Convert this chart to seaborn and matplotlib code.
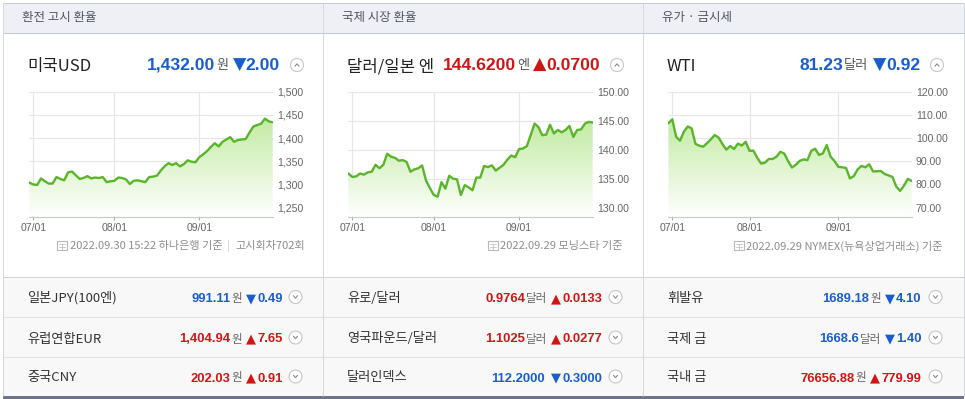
import numpy as np
import matplotlib
matplotlib.use("Agg")
import matplotlib.pyplot as plt
import seaborn as sns
from matplotlib.patches import Rectangle, Circle
from matplotlib.colors import to_rgb

# ---------------- data ----------------
# trading-day index: -1 .. 62  (07/01 = 0)
usd_krw = [1304, 1300, 1299, 1313, 1307, 1302, 1302, 1316, 1312, 1309, 1326, 1328, 1320,
           1312, 1314, 1318, 1313, 1315, 1314, 1316, 1305, 1307, 1308, 1315, 1314, 1311,
           1301, 1308, 1309, 1307, 1305, 1316, 1317, 1319, 1330, 1339, 1346, 1342, 1346,
           1339, 1344, 1352, 1349, 1348, 1359, 1365, 1372, 1381, 1389, 1382, 1392, 1397,
           1402, 1392, 1396, 1397, 1398, 1412, 1425, 1428, 1431, 1442, 1436, 1434]
usd_jpy = [135.9, 135.3, 135.4, 135.9, 135.7, 136.1, 136.2, 137.4, 136.8, 137.4, 139.3,
           138.8, 138.6, 138.1, 138.2, 137.9, 136.2, 136.6, 136.8, 137.3, 134.7, 133.4,
           132.2, 131.9, 134.4, 133.3, 135.5, 135.0, 134.9, 132.2, 133.9, 133.5, 133.0,
           135.2, 135.2, 137.2, 137.0, 137.3, 136.4, 136.9, 137.4, 138.3, 139.0, 138.7,
           140.1, 140.2, 140.6, 142.5, 144.5, 143.9, 142.5, 142.6, 144.3, 142.8, 143.4,
           143.0, 143.4, 144.1, 142.2, 143.4, 143.5, 144.5, 144.8, 144.7]
wti = [106.4, 108.1, 100.5, 98.9, 102.8, 105.0, 104.2, 97.5, 96.7, 96.3, 97.8, 99.5,
       101.3, 100.2, 97.4, 95.0, 96.6, 95.3, 97.6, 96.8, 98.4, 94.5, 94.6, 91.5, 89.0,
       89.4, 91.0, 91.0, 92.0, 94.1, 93.3, 90.0, 87.3, 88.5, 90.2, 90.8, 90.5, 94.5,
       95.4, 92.7, 93.4, 97.0, 92.0, 90.1, 87.6, 87.4, 87.1, 82.6, 83.6, 86.5, 88.0,
       87.4, 88.7, 85.6, 85.7, 85.8, 84.5, 83.9, 83.3, 79.1, 77.2, 79.5, 82.4, 81.5]

month_labels = ["07/01", "08/01", "09/01"]
month_ticks = [[0, 21, 43], [0, 21, 43], [0, 20, 43]]

yticks = [[1250, 1300, 1350, 1400, 1450, 1500],
          [130, 135, 140, 145, 150],
          [70, 80, 90, 100, 110, 120]]
ytick_labels = [["1,250", "1,300", "1,350", "1,400", "1,450", "1,500"],
                ["130.00", "135.00", "140.00", "145.00", "150.00"],
                ["70.00", "80.00", "90.00", "100.00", "110.00", "120.00"]]

section_titles = ["환전 고시 환율", "국제 시장 환율", "유가 · 금시세"]
main_names = ["미국USD", "달러/일본 엔", "WTI"]
main_values = ["1,432.00", "144.6200", "81.23"]
main_units = ["원", "엔", "달러"]
main_changes = ["2.00", "0.0700", "0.92"]
main_dirs = ["down", "up", "down"]

foot_main = ["2022.09.30 15:22 하나은행 기준", "2022.09.29 모닝스타 기준",
             "2022.09.29 NYMEX(뉴욕상업거래소) 기준"]
foot_extra = ["고시회차702회", "", ""]

row_names = [["일본JPY(100엔)", "유럽연합EUR", "중국CNY"],
             ["유로/달러", "영국파운드/달러", "달러인덱스"],
             ["휘발유", "국제 금", "국내 금"]]
row_values = [["991.11", "1,404.94", "202.03"],
              ["0.9764", "1.1025", "112.2000"],
              ["1689.18", "1668.6", "76656.88"]]
row_units = [["원", "원", "원"], ["달러", "달러", ""], ["원", "달러", "원"]]
row_changes = [["0.49", "7.65", "0.91"],
               ["0.0133", "0.0277", "0.3000"],
               ["4.10", "1.40", "779.99"]]
row_dirs = [["down", "up", "up"], ["up", "up", "down"], ["down", "down", "up"]]

# ---------------- style ----------------
sns.set_theme(style="white")
plt.rcParams["font.family"] = ["Noto Sans CJK KR", "DejaVu Sans"]
NUM = ["Liberation Sans", "DejaVu Sans"]
TRI = ["DejaVu Sans"]
TICKF = ["Liberation Sans Narrow", "Liberation Sans", "DejaVu Sans"]
CJK = ["Noto Sans CJK KR", "DejaVu Sans"]
BLUE = "#1a5dcc"
RED = "#d01515"
GREEN = "#5ab52b"

W, H, DPI = 965, 399, 100
fig = plt.figure(figsize=(W / DPI, H / DPI), dpi=DPI)
fig.patch.set_facecolor("white")
bg = fig.add_axes([0, 0, 1, 1])
bg.set_xlim(0, W)
bg.set_ylim(H, 0)
bg.axis("off")
renderer = fig.canvas.get_renderer()

PT = 0.72  # px -> pt


def hline(x0, x1, y, c, lw=1.0):
    bg.plot([x0, x1], [y, y], color=c, lw=lw * PT, solid_capstyle="butt", zorder=2)


def vline(x, y0, y1, c, lw=1.0):
    bg.plot([x, x], [y0, y1], color=c, lw=lw * PT, solid_capstyle="butt", zorder=2)


# header band
bg.add_patch(Rectangle((3, 3), 961, 30, fc="#eef0f6", ec="none", zorder=1))
hline(3, 964, 3, "#c9ccd8")
hline(3, 964, 33.2, "#c3c7d3")
# table rows
for y0, y1 in [(277, 317), (317, 356.5), (356.5, 396)]:
    bg.add_patch(Rectangle((3, y0), 961, y1 - y0, fc="#f8f8f8", ec="none", zorder=1))
hline(3, 964, 277, "#cfd2da")
hline(3, 964, 317, "#dedfe3")
hline(3, 964, 356.5, "#dedfe3")
bg.add_patch(Rectangle((3, 395.5), 961, 3, fc="#6f7585", ec="none", zorder=2))
# vertical borders
for x in [3.3, 323.3, 643.0, 963.5]:
    vline(x, 3, 395.5, "#d6d8df")

col_off = [0, 320, 640]


def right_segments(x_end, y, segs):
    """segs: list of (text, color, size, weight, family, gap_left)"""
    x = x_end
    for text, color, size, weight, family, gap in reversed(segs):
        if text == "":
            continue
        t = bg.text(x, y, text, ha="right", va="baseline", color=color, fontsize=size,
                    fontweight=weight, family=family, zorder=5)
        bb = t.get_window_extent(renderer=renderer)
        x -= bb.width + gap
    return x


def caret_circle(cx, cy, up=True, r=6.5):
    bg.add_patch(Circle((cx, cy), r, fc="white", ec="#c6c6c6", lw=0.8, zorder=4))
    d = 1.2 if up else -1.2
    bg.plot([cx - 2.0, cx, cx + 2.0], [cy + d, cy - d, cy + d], color="#8a8a8a",
            lw=0.8, zorder=5)


def tri(d):
    return "▼" if d == "down" else "▲"


def icon(x_right, y):
    # tiny document/calendar icon
    x0 = x_right - 11
    bg.add_patch(Rectangle((x0, y - 9), 10, 9, fc="none", ec="#b8b8b8", lw=0.8, zorder=4))
    for yy in [y - 6, y - 3.5]:
        bg.plot([x0 + 2, x0 + 8], [yy, yy], color="#c4c4c4", lw=0.6, zorder=4)
    bg.plot([x0 + 5, x0 + 5], [y - 6, y], color="#c4c4c4", lw=0.6, zorder=4)


for c in range(3):
    ox = col_off[c]
    # section header
    bg.text(22 + ox, 21.5, section_titles[c], ha="left", va="baseline", color="#505561",
            fontsize=9, family=CJK, zorder=5)
    # main title row
    bg.text(27 + ox, 71, main_names[c], ha="left", va="baseline", color="#222222",
            fontsize=12, family=CJK, zorder=5)
    col = BLUE if main_dirs[c] == "down" else RED
    right_segments(280 + ox, 69.5, [
        (main_values[c], col, 12.6, "bold", NUM, 0),
        (main_units[c], "#555555", 9.5, "normal", CJK, 1),
        (tri(main_dirs[c]), col, 12.5, "normal", TRI, 4),
        (main_changes[c], col, 12.6, "bold", NUM, 0),
    ])
    caret_circle(297 + ox, 65, up=True)

    # footnote
    xe = 305 + ox if c == 0 else 303 + ox
    if foot_extra[c]:
        x = right_segments(xe, 249.5, [
            (foot_main[c], "#8e8e8e", 8, "normal", CJK, 0),
            ("|", "#d0d0d0", 8, "normal", CJK, 5),
            (foot_extra[c], "#8e8e8e", 8, "normal", CJK, 5),
        ])
    else:
        x = right_segments(xe, 249.5, [(foot_main[c], "#8e8e8e", 8, "normal", CJK, 0)])
    icon(x - 2, 250)

    # table rows
    for r, yb in enumerate([302, 342.5, 381.5]):
        bg.text(27 + ox, yb, row_names[c][r], ha="left", va="baseline", color="#333333",
                fontsize=9.5, family=CJK, zorder=5)
        col = BLUE if row_dirs[c][r] == "down" else RED
        unit = row_units[c][r]
        right_segments(283 + ox if c == 0 else 282.7 + ox if c == 1 else 281.7 + ox, yb, [
            (row_values[c][r], col, 9.4, "bold", NUM, 0),
            (unit, "#666666", 8.3, "normal", CJK, 1 if unit else 0),
            (tri(row_dirs[c][r]), col, 9.4, "normal", TRI, 4 if unit else 7),
            (row_changes[c][r], col, 9.4, "bold", NUM, 1.5),
        ])
        caret_circle(295.5 + ox, yb - 5, up=False)

# ---------------- charts ----------------
series = [usd_krw, usd_jpy, wti]
x0701 = [33.3, 352.3, 672.3]
xend = [272.7, 592.7, 911.7]
ylims = [(1230.6, 1500), (128.45, 150), (66.1, 120)]
TOP, BOT = 91.7, 216.7
xs = list(range(-1, 63))

for c in range(3):
    per = (xend[c] - x0701[c]) / 62.0
    left = x0701[c] - per
    ax = fig.add_axes([left / W, (H - BOT) / H, (xend[c] - left) / W, (BOT - TOP) / H])
    ax.set_facecolor("none")
    ys = series[c]
    ylo, yhi = ylims[c]
    fill = ax.fill_between(xs, ys, ylo, facecolor="none", edgecolor="none")
    grad = np.linspace(0, 1, 256)[:, None, None]
    ctop = np.array(to_rgb("#c3eba4"))
    cbot = np.array([1.0, 1.0, 1.0])
    arr = ctop[None, None, :] * (1 - grad) + cbot[None, None, :] * grad
    img = ax.imshow(arr, extent=[-1, 62, ylo, max(ys)], aspect="auto", origin="upper",
                    zorder=1, interpolation="bilinear")
    img.set_clip_path(fill.get_paths()[0], transform=ax.transData)
    sns.lineplot(x=xs, y=ys, ax=ax, color=GREEN, linewidth=1.7, zorder=3)
    ax.set_xlim(-1, 62)
    ax.set_ylim(ylo, yhi)
    ax.set_xlabel("")
    ax.set_ylabel("")
    ax.yaxis.tick_right()
    ax.set_yticks(yticks[c])
    ax.set_yticklabels(ytick_labels[c], family=TICKF)
    ax.set_xticks(month_ticks[c])
    ax.set_xticklabels(month_labels, family=TICKF)
    ax.grid(True, color="#e6e6e6", lw=0.8)
    ax.set_axisbelow(True)
    for s in ["top", "left", "right"]:
        ax.spines[s].set_visible(False)
    ax.spines["bottom"].set_color("#c8c8c8")
    ax.spines["bottom"].set_linewidth(0.8)
    ax.tick_params(axis="y", length=0, pad=3, labelsize=7.6, labelcolor="#666666")
    ax.tick_params(axis="x", length=5, direction="inout", color="#aaaaaa", width=0.8,
                   pad=2, labelsize=7.6, labelcolor="#666666", bottom=True)

fig.savefig("out.png", dpi=DPI, facecolor="white")
